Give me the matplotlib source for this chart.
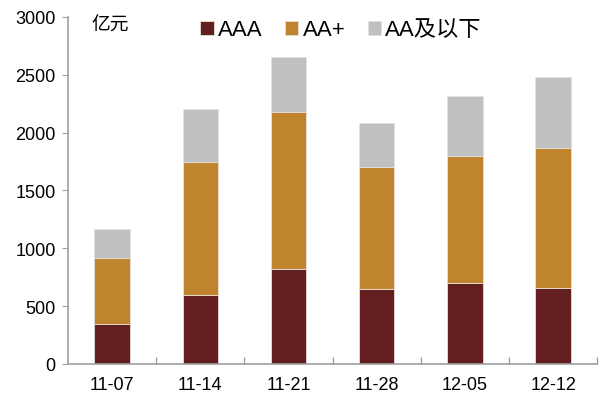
import numpy as np
import matplotlib
matplotlib.use("Agg")
import matplotlib.pyplot as plt

plt.rcParams["font.family"] = ["Liberation Sans", "Noto Sans CJK SC", "DejaVu Sans"]

# =====================================================
# Data (亿元)
# =====================================================

weeks = ["11-07", "11-14", "11-21", "11-28", "12-05", "12-12"]
aaa = [344, 595, 817, 652, 701, 655]
aa_plus = [574, 1150, 1360, 1055, 1100, 1210]
aa_below = [250, 460, 480, 380, 515, 620]

series_names = ["AAA", "AA+", "AA及以下"]
colors = ["#631f20", "#c0842e", "#c0c0c0"]

# =====================================================
# Plot
# =====================================================

fig = plt.figure(figsize=(6.10, 4.06), dpi=100)
ax = fig.add_axes([0.1115, 0.101, 0.8675, 0.8547])

x = np.arange(len(weeks))
bottom = np.zeros(len(weeks))
for name, vals, col in zip(series_names, [aaa, aa_plus, aa_below], colors):
    ax.bar(x, vals, width=0.4, bottom=bottom, color=col, label=name,
           edgecolor="#e6e0da", linewidth=0.6)
    bottom += np.array(vals)

ax.set_xlim(-0.5, len(weeks) - 0.5)
ax.set_ylim(0, 3000)
ax.set_yticks(np.arange(0, 3001, 500))
ax.set_xticks(x)
ax.set_xticklabels(weeks)
ax.set_xticks(np.arange(0.5, len(weeks), 1), minor=True)

for side in ["top", "right"]:
    ax.spines[side].set_visible(False)
for side in ["left", "bottom"]:
    ax.spines[side].set_color("#a0a0a0")
    ax.spines[side].set_linewidth(1.2)

ax.tick_params(axis="y", direction="out", length=4, color="#a0a0a0",
               labelsize=13, pad=5)
ax.tick_params(axis="x", which="major", length=0, labelsize=13, pad=9)
ax.tick_params(axis="x", which="minor", direction="in", length=5,
               color="#a0a0a0", width=1)

fig.text(91 / 610, 1 - 26 / 406, "亿元", fontsize=13.5, va="center", ha="left")

ax.legend(loc="center", bbox_to_anchor=(341 / 610, 1 - 31 / 406),
          bbox_transform=fig.transFigure, ncol=3, frameon=False,
          fontsize=16, handlelength=0.6, handleheight=0.6,
          handletextpad=0.2, columnspacing=1.0, borderpad=0)

fig.savefig("out.png", dpi=100)
